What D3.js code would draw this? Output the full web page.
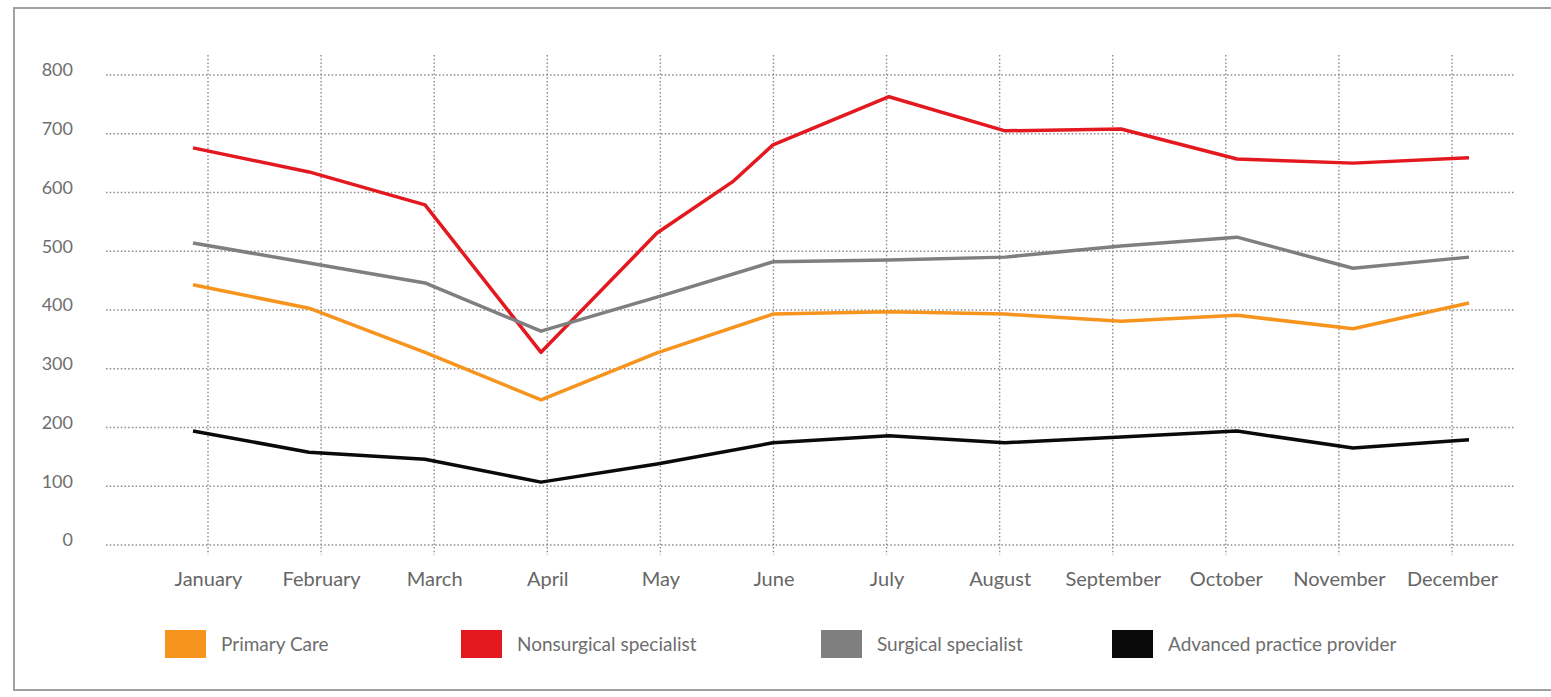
<!DOCTYPE html>
<html>
<head>
<meta charset="utf-8">
<script src="https://cdn.jsdelivr.net/npm/d3@7"></script>
<style>
  body { margin: 0; background: #fff; }
  svg { display: block; font-family: Lato, "Open Sans", sans-serif; }
</style>
</head>
<body>
<svg width="1551" height="697"></svg>
<script>
// chart data
var months = ['January', 'February', 'March', 'April', 'May', 'June', 'July',
    'August', 'September', 'October', 'November', 'December'];
var yTicks = [0, 100, 200, 300, 400, 500, 600, 700, 800];

var primaryCare = [443, 403, 328, 247, 327, 393, 397, 393, 381, 391, 368, 412];
var nonsurgical = [676, 635, 579, 328, 531, 681, 763, 705, 708, 657, 650, 659];
var surgical = [514, 480, 446, 364, 422, 482, 485, 490, 509, 524, 471, 490];
var advanced = [194, 158, 146, 107, 138, 174, 186, 174, 184, 194, 165, 179];
// the red line has one extra bend between May and June
var nonsurgicalExtra = [{ m: 4.65, v: 618 }];

var seriesNames = ['Primary Care', 'Nonsurgical specialist', 'Surgical specialist', 'Advanced practice provider'];
var seriesColors = ['#f7941d', '#e3191f', '#7f7f7f', '#0a0a0a'];

function toPoints(values) {
    return values.map(function (v, i) { return { m: i, v: v }; });
}

var series = [
    toPoints(primaryCare),
    toPoints(nonsurgical).concat(nonsurgicalExtra).sort(function (a, b) { return a.m - b.m; }),
    toPoints(surgical),
    toPoints(advanced)
];

var svg = d3.select('svg');

// outer frame
svg.append('rect')
    .attr('x', 14).attr('y', 8)
    .attr('width', 1560).attr('height', 682)
    .attr('fill', 'none')
    .attr('stroke', '#a0a0a0')
    .attr('stroke-width', 2);

// scales
var yScale = d3.scaleLinear().domain([0, 800]).range([545, 75]);
var xGrid = d3.scalePoint().domain(months).range([208, 1452]);
var xLine = d3.scaleLinear().domain([0, 11]).range([193, 1469]);

var gridG = svg.append('g');

// horizontal dotted grid
gridG.selectAll('.hgrid').data(yTicks).enter()
    .append('line').attr('class', 'hgrid')
    .attr('x1', 106).attr('x2', 1514)
    .attr('y1', d => yScale(d)).attr('y2', d => yScale(d))
    .attr('stroke', '#8a8a8a')
    .attr('stroke-width', 1.4)
    .attr('stroke-dasharray', '1.5 2.2');

// vertical dotted grid
gridG.selectAll('.vgrid').data(months).enter()
    .append('line').attr('class', 'vgrid')
    .attr('x1', d => xGrid(d)).attr('x2', d => xGrid(d))
    .attr('y1', 55).attr('y2', 555)
    .attr('stroke', '#8a8a8a')
    .attr('stroke-width', 1.4)
    .attr('stroke-dasharray', '1.5 2.2');

// y axis labels
var yAxis = svg.append('g')
    .attr('transform', 'translate(83, -5)')
    .call(d3.axisLeft(yScale).tickValues(yTicks).tickSize(0).tickPadding(10));
yAxis.select('.domain').remove();
yAxis.selectAll('text')
    .attr('font-family', 'Lato, "Open Sans", sans-serif')
    .attr('font-size', 18)
    .attr('fill', '#6e6e6e');

// x axis labels
var xAxis = svg.append('g')
    .attr('transform', 'translate(0, 572)')
    .call(d3.axisBottom(xGrid).tickSize(0).tickPadding(0));
xAxis.select('.domain').remove();
xAxis.selectAll('text')
    .attr('font-family', 'Lato, "Open Sans", sans-serif')
    .attr('font-size', 20)
    .attr('fill', '#666');

// lines
var line = d3.line()
    .x(d => xLine(d.m))
    .y(d => yScale(d.v));

svg.selectAll('.series').data(series).enter()
    .append('path').attr('class', 'series')
    .attr('d', line)
    .attr('fill', 'none')
    .attr('stroke', (d, i) => seriesColors[i])
    .attr('stroke-width', 3.5)
    .attr('stroke-linejoin', 'round');

// legend
var legendX = [165, 461, 821, 1112];
var legend = svg.selectAll('.legend').data(seriesNames).enter()
    .append('g').attr('class', 'legend')
    .attr('transform', (d, i) => 'translate(' + legendX[i] + ', 630)');
legend.append('rect')
    .attr('width', 41).attr('height', 28)
    .attr('fill', (d, i) => seriesColors[i]);
legend.append('text')
    .attr('x', 56).attr('y', 14)
    .attr('dy', '0.35em')
    .attr('font-size', 19)
    .attr('fill', '#6e6e6e')
    .text(d => d);
</script>
</body>
</html>
